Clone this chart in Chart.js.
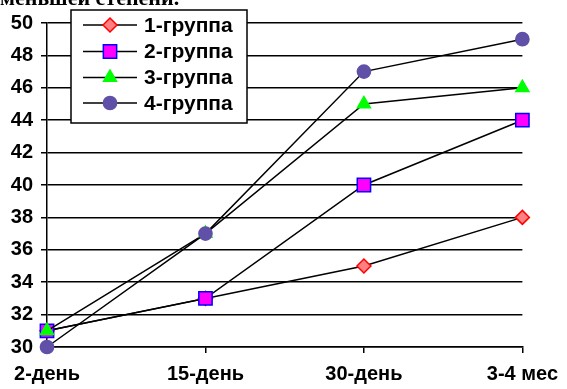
<!DOCTYPE html>
<html>
<head>
<meta charset="utf-8">
<script src="https://cdn.jsdelivr.net/npm/chart.js@4.4.1/dist/chart.umd.min.js"></script>
<style>
  body { margin: 0; background: #fff; overflow: hidden; }
  #wrap { position: relative; width: 567px; height: 389px; }
  #cut { position: absolute; left: 0; top: -13px; font: bold 22px "Liberation Serif", serif; line-height: 21px; white-space: nowrap; }
  canvas { position: absolute; left: 0; top: 0; }
</style>
</head>
<body>
<div id="wrap">
  <canvas id="myChart" width="567" height="389"></canvas>
  <div id="cut">меньшей степени.</div>
</div>
<script>
// data
const days = ["2-день", "15-день", "30-день", "3-4 мес"];
const group1 = [31, 33, 35, 38];
const group2 = [31, 33, 40, 44];
const group3 = [31, 37, 45, 46];
const group4 = [30, 37, 47, 49];
const groupNames = ["1-группа", "2-группа", "3-группа", "4-группа"];
const yMin = 30, yMax = 50, yStep = 2;

const FONT = "'Liberation Sans', Arial, sans-serif";

function series(label, values, style, fill, stroke, radius, order) {
  return {
    label: label,
    data: values,
    borderColor: "#000",
    borderWidth: 1.5,
    tension: 0,
    fill: false,
    clip: false,
    order: order,
    pointStyle: style,
    pointRadius: radius,
    pointHoverRadius: radius,
    pointBackgroundColor: fill,
    pointBorderColor: stroke,
    pointBorderWidth: 1.5,
  };
}

const datasets = [
  series(groupNames[0], group1, "rectRot", "#ff8080", "#ff0000", 7, 4),
  series(groupNames[1], group2, "rect", "#ff00ff", "#0000ff", 9.4, 3),
  series(groupNames[2], group3, "triangle", "#00ff00", "#00ff00", 7.5, 2),
  series(groupNames[3], group4, "circle", "#6050a8", "#6050a8", 6.6, 1),
];

// boxed legend like the original (white box with black frame)
const boxLegend = {
  id: "boxLegend",
  afterDatasetsDraw(chart) {
    const ctx = chart.ctx;
    const left = 71, top = 10, w = 176, h = 113;
    ctx.save();
    ctx.fillStyle = "#fff";
    ctx.fillRect(left, top, w, h);
    ctx.strokeStyle = "#000";
    ctx.lineWidth = 1.5;
    ctx.strokeRect(left, top, w, h);
    const rows = [25, 51.5, 77.5, 103];
    chart.data.datasets.forEach((ds, i) => {
      const y = rows[i];
      ctx.strokeStyle = "#000";
      ctx.lineWidth = 1.5;
      ctx.beginPath();
      ctx.moveTo(83, y);
      ctx.lineTo(137, y);
      ctx.stroke();
      ctx.fillStyle = ds.pointBackgroundColor;
      ctx.strokeStyle = ds.pointBorderColor;
      ctx.lineWidth = ds.pointBorderWidth;
      Chart.helpers.drawPoint(ctx, {
        pointStyle: ds.pointStyle,
        radius: ds.pointRadius,
        borderWidth: ds.pointBorderWidth,
        rotation: 0,
      }, 110, y);
      ctx.fillStyle = "#000";
      ctx.font = "bold 21px " + FONT;
      ctx.textAlign = "left";
      ctx.textBaseline = "middle";
      ctx.fillText(ds.label, 144, y + 1);
    });
    ctx.restore();
  },
};

const config = {
  type: "line",
  data: { labels: days, datasets: datasets },
  options: {
    responsive: false,
    animation: false,
    layout: { padding: { top: 23, right: 42, left: 0, bottom: 0 } },
    scales: {
      x: {
        offset: false,
        afterFit: (scale) => { scale.height = 42; },
        grid: {
          drawOnChartArea: false,
          drawTicks: true,
          tickLength: 6,
          // no tick mark under the first category, as in the original
          color: (c) => (c.index === 0 ? "rgba(0,0,0,0)" : "#000"),
          lineWidth: 1.5,
        },
        border: { display: true, color: "#000", width: 1.5 },
        ticks: {
          color: "#000",
          padding: 9,
          maxRotation: 0,
          autoSkip: false,
          font: { family: FONT, size: 20, weight: "bold" },
        },
      },
      y: {
        min: yMin,
        max: yMax,
        afterFit: (scale) => { scale.width = 47; },
        grid: {
          color: "#000",
          lineWidth: 1.5,
          tickLength: 6,
        },
        border: { display: true, color: "#000", width: 1.5 },
        ticks: {
          stepSize: yStep,
          color: "#000",
          padding: 8,
          font: { family: FONT, size: 20, weight: "bold" },
        },
      },
    },
    plugins: {
      legend: { display: false },
      tooltip: { enabled: false },
    },
  },
  plugins: [boxLegend],
};

const ctx = document.getElementById("myChart").getContext("2d");
const myChart = new Chart(ctx, config);
</script>
</body>
</html>
